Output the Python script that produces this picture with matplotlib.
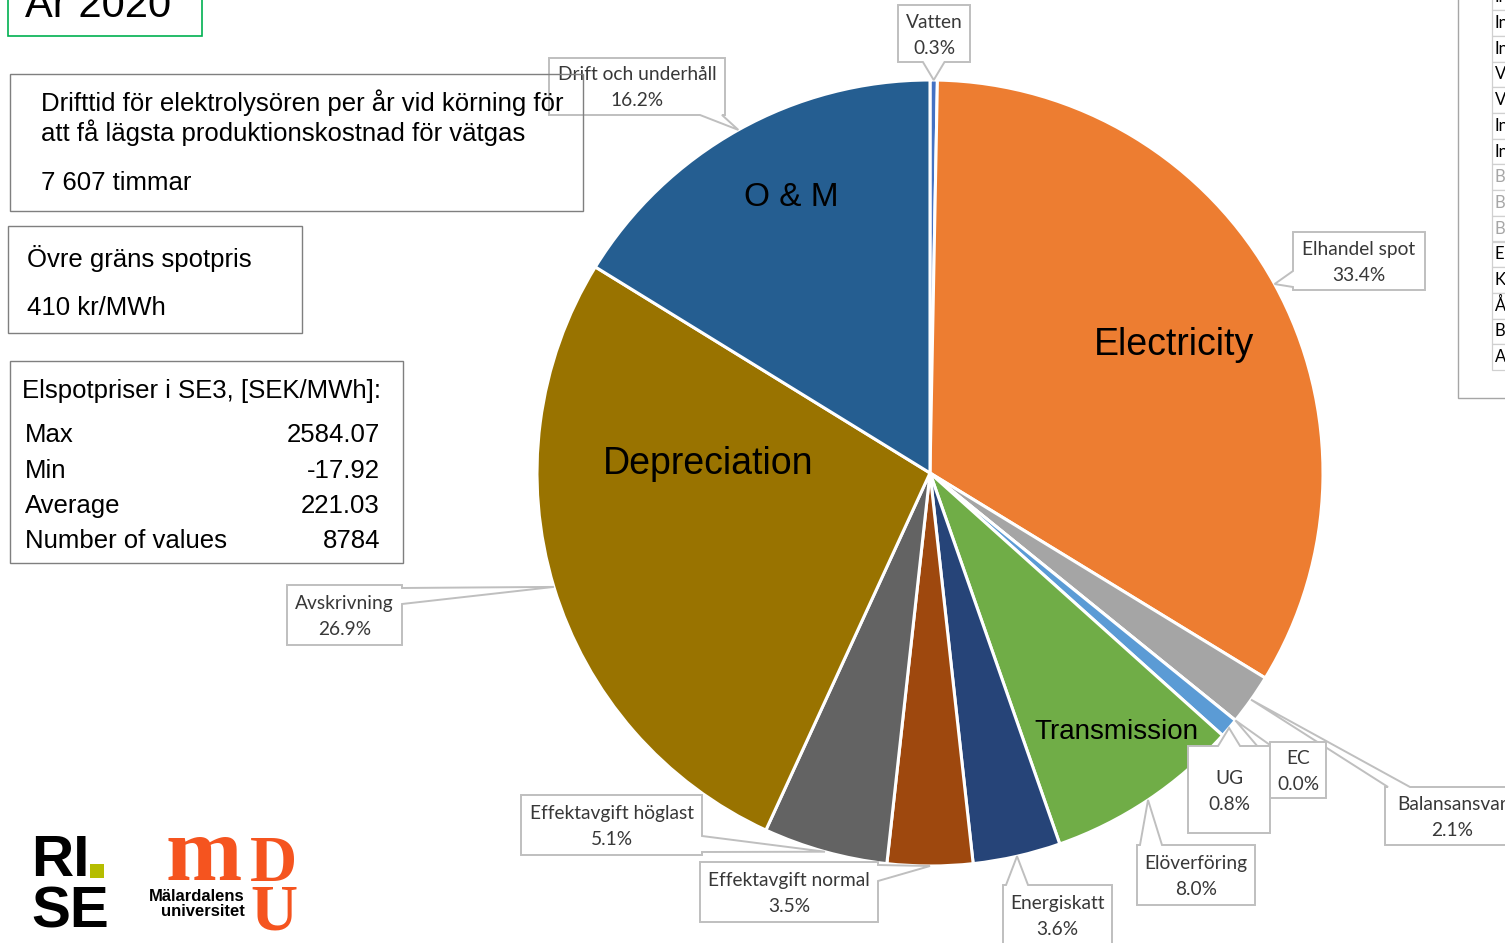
import numpy as np
import matplotlib.pyplot as plt
from matplotlib.patches import Rectangle, Polygon

# kostnadsposter för vätgasproduktion, andel i procent (medurs från kl. 12)
poster = ['Vatten', 'Elhandel spot', 'Balansansvar', 'EC', 'UG', 'Elöverföring',
          'Energiskatt', 'Effektavgift normal', 'Effektavgift höglast',
          'Avskrivning', 'Drift och underhåll']
andelar = [0.3, 33.4, 2.1, 0.0, 0.8, 8.0, 3.6, 3.5, 5.1, 26.9, 16.2]
farger = ['#4472C4', '#ED7D31', '#A5A5A5', '#FFC000', '#5B9BD5', '#70AD47',
          '#264478', '#9E480E', '#636363', '#997300', '#255E91']

# etikettrutor i bildpunkter (x0, y0, x1, y1)
rutor = [(898, 5, 970, 62), (1293, 232, 1425, 290), (1385, 787, 1520, 845),
         (1270, 742, 1326, 798), (1188, 746, 1270, 833), (1137, 845, 1255, 905),
         (1003, 885, 1112, 945), (700, 862, 878, 922), (521, 795, 702, 855),
         (287, 585, 402, 645), (549, 58, 725, 115)]

# grupperade rubriker i diagrammet
grupper = ['O & M', 'Electricity', 'Depreciation', 'Transmission']
grupp_pos = [(791, 197), (1174, 345), (708, 464), (1116, 732)]
grupp_storlek = [24, 27, 27, 20]

# elspotpriser SE3
stat_namn = ['Max', 'Min', 'Average', 'Number of values']
stat_varden = ['2584.07', '-17.92', '221.03', '8784']

tabell_rader = ['In', 'In', 'In', 'V', 'V', 'In', 'In', 'B', 'B', 'B', 'E', 'K', 'Å', 'B', 'A']
tabell_gra = [False] * 7 + [True] * 3 + [False] * 5

W, H = 1505, 943
fig = plt.figure(figsize=(W / 100, H / 100), dpi=100)
ax = fig.add_axes([0, 0, 1, 1])

mitt = (930, 473)
radie = 393
kilar, _ = ax.pie(andelar, colors=farger, startangle=-90, counterclock=True,
                  center=mitt, radius=radie,
                  wedgeprops=dict(edgecolor='white', linewidth=2.2))
ax.set_xlim(0, W)
ax.set_ylim(H, 0)
ax.set_aspect('equal')
ax.axis('off')

sans = 'Liberation Sans'
callout_font = 'Lato'


def pratbubbla(ruta, spets, rad1, rad2):
    x0, y0, x1, y1 = ruta
    tx, ty = spets
    dx = max(x0 - tx, tx - x1, 0) / (x1 - x0)
    dy = max(y0 - ty, ty - y1, 0) / (y1 - y0)
    if dx >= dy:
        L = min(16, (y1 - y0) * 0.3)
        c = np.clip(ty, y0 + L / 2 + 3, y1 - L / 2 - 3)
        if tx > x1:
            pts = [(x0, y0), (x1, y0), (x1, c - L / 2), (tx, ty), (x1, c + L / 2), (x1, y1), (x0, y1)]
        else:
            pts = [(x0, y0), (x1, y0), (x1, y1), (x0, y1), (x0, c + L / 2), (tx, ty), (x0, c - L / 2)]
    else:
        L = min(22, (x1 - x0) * 0.3)
        c = np.clip(tx, x0 + L / 2 + 3, x1 - L / 2 - 3)
        if ty > y1:
            pts = [(x0, y0), (x1, y0), (x1, y1), (c + L / 2, y1), (tx, ty), (c - L / 2, y1), (x0, y1)]
        else:
            pts = [(x0, y0), (c - L / 2, y0), (tx, ty), (c + L / 2, y0), (x1, y0), (x1, y1), (x0, y1)]
    ax.add_patch(Polygon(pts, closed=True, facecolor='white', edgecolor='#BFBFBF',
                         linewidth=1.4, zorder=5))
    xc = (x0 + x1) / 2
    yc = (y0 + y1) / 2
    ax.text(xc, yc - 11.5, rad1, ha='center', va='center', fontsize=13.8,
            family=callout_font, color='#383838', zorder=6)
    ax.text(xc, yc + 14.5, rad2, ha='center', va='center', fontsize=13.8,
            family=callout_font, color='#383838', zorder=6)


for kil, namn, v, ruta in zip(kilar, poster, andelar, rutor):
    vinkel = np.deg2rad((kil.theta1 + kil.theta2) / 2)
    spets = (mitt[0] + radie * np.cos(vinkel), mitt[1] + radie * np.sin(vinkel))
    pratbubbla(ruta, spets, namn, f'{v:.1f}%')

for txt, (x, y), fs in zip(grupper, grupp_pos, grupp_storlek):
    ax.text(x, y, txt, ha='center', va='center', fontsize=fs, family=sans,
            color='black', zorder=4)

# rubrik
ax.add_patch(Rectangle((8, -20), 194, 56, facecolor='none', edgecolor='#00B050',
                       linewidth=1.2, zorder=3))
ax.text(25, 17, 'År 2020', ha='left', va='baseline', fontsize=30, family=sans)

# textrutor till vänster
ax.add_patch(Rectangle((10, 74), 573, 137, facecolor='none', edgecolor='#7F7F7F',
                       linewidth=1.0, zorder=8))
ax.text(41, 103, 'Drifttid för elektrolysören per år vid körning för',
        va='center', fontsize=18.5, family=sans, zorder=9)
ax.text(41, 133, 'att få lägsta produktionskostnad för vätgas',
        va='center', fontsize=18.5, family=sans, zorder=9)
ax.text(41, 183, '7 607 timmar', va='center', fontsize=18.5, family=sans, zorder=9)

ax.add_patch(Rectangle((8, 226), 294, 107, facecolor='white', edgecolor='#7F7F7F',
                       linewidth=1.0, zorder=8))
ax.text(27, 258, 'Övre gräns spotpris', va='center', fontsize=18.5, family=sans, zorder=9)
ax.text(27, 308, '410 kr/MWh', va='center', fontsize=18.5, family=sans, zorder=9)

ax.add_patch(Rectangle((10, 361), 393, 202, facecolor='white', edgecolor='#7F7F7F',
                       linewidth=1.0, zorder=8))
ax.text(22, 391, 'Elspotpriser i SE3, [SEK/MWh]:', va='center', fontsize=18.5,
        family=sans, zorder=9)
for i, (n, v) in enumerate(zip(stat_namn, stat_varden)):
    y = 435 + i * 35.5
    ax.text(25, y, n, va='center', fontsize=18.5, family=sans, zorder=9)
    ax.text(380, y, v, va='center', ha='right', fontsize=18.5, family=sans, zorder=9)

# tabell i övre högra hörnet
ax.add_patch(Rectangle((1458, -10), 80, 408, facecolor='none', edgecolor='#A6A6A6',
                       linewidth=1.0, zorder=3))
rad_h = 25.7
for i, (t, gra) in enumerate(zip(tabell_rader, tabell_gra)):
    ytop = 370 - (len(tabell_rader) - i) * rad_h
    ax.add_patch(Rectangle((1492, ytop), 40, rad_h, facecolor='white',
                           edgecolor='#D0D0D0', linewidth=0.9, zorder=3))
    ax.text(1495, ytop + rad_h / 2, t, va='center', fontsize=12, family=callout_font,
            color='#A6A6A6' if gra else 'black', zorder=4)

# logotyper
ax.text(31, 876, 'RI', fontsize=42, weight='bold', family=sans, va='baseline')
ax.add_patch(Rectangle((90, 864), 14, 14, facecolor='#B5BD00', edgecolor='none'))
ax.text(31, 928, 'SE', fontsize=42, weight='bold', family=sans, va='baseline')

orange = '#F5541F'
ax.text(166, 880, 'm', fontsize=66, weight='bold', family='Liberation Serif',
        color=orange, va='baseline')
ax.text(250, 930, 'D\nU', fontsize=47, weight='bold', family='Liberation Serif',
        color=orange, va='baseline', linespacing=0.77)
ax.text(245, 904, 'Mälardalens\nuniversitet', ha='right', va='center', fontsize=12,
        weight='bold', family=sans, linespacing=1.05)

fig.savefig('out.png', dpi=100)
